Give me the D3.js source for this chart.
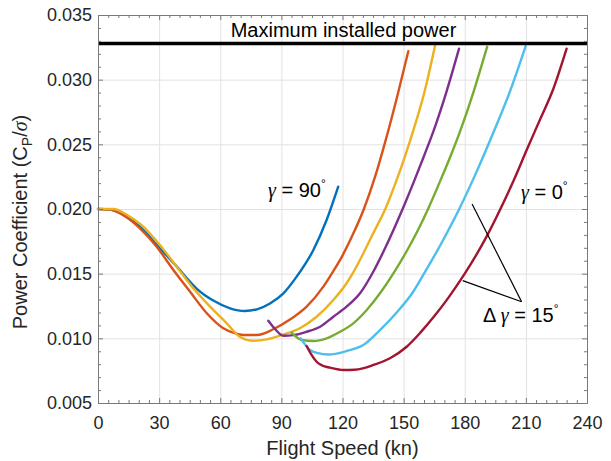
<!DOCTYPE html>
<meta charset="utf-8">
<style>
body {
  margin: 0;
  background: #fff;
}
svg {
  font-family: "Liberation Sans", Arial, Helvetica, sans-serif;
}
.axis text {
  font-size: 18px;
  fill: #262626;
}
.axis path,
.axis line {
  stroke: #7a7a7a;
}
.grid line {
  stroke: #e2e2e2;
}
.grid path {
  display: none;
}
.curve {
  fill: none;
  stroke-width: 2.4;
  stroke-linejoin: round;
  stroke-linecap: round;
}
.label {
  font-size: 20px;
  fill: #262626;
}
.note {
  font-size: 20px;
  fill: #000;
}
.greek {
  font-family: "Liberation Serif", "DejaVu Serif", serif;
  font-style: italic;
}
</style>
<svg width="611" height="461"></svg>
<script src="https://d3js.org/d3.v7.min.js"></script>
<script>

// axis ticks
var speedTicks = [0, 30, 60, 90, 120, 150, 180, 210, 240];
var cpTicks = [0.005, 0.010, 0.015, 0.020, 0.025, 0.030, 0.035];

// limit line
var maxPower = 0.0328;

// power curves, [speed kn, Cp/sigma]
var gamma90 = [[0, 0.0200], [6, 0.01995], [14, 0.0194], [20.6, 0.01863], [30.4, 0.01696],
  [40.2, 0.01528], [44.3, 0.01452], [48.4, 0.01385], [56.6, 0.01292], [64.8, 0.01232], [72, 0.01211],
  [78, 0.01224], [84.4, 0.0127], [91, 0.01348], [97.5, 0.01477], [105.7, 0.01683],
  [112.2, 0.01915], [117.9, 0.02173]];

var gamma75 = [[0, 0.0200], [6, 0.01995], [14, 0.01936], [20.6, 0.0185], [28.8, 0.01708],
  [37, 0.01528], [45.2, 0.0136], [53.4, 0.01194], [61.5, 0.01078], [67, 0.0104],
  [71.3, 0.01026], [77.9, 0.01026], [86, 0.0107], [94.2, 0.01145], [102.4, 0.01245],
  [110.6, 0.0140], [115.5, 0.0152], [120, 0.0164], [125, 0.0180], [130.5, 0.0200],
  [136, 0.0225], [141.5, 0.0255], [147, 0.0288], [152.3, 0.0322]];

var gamma60 = [[0, 0.0200], [7.5, 0.0200], [14.9, 0.01948], [21.4, 0.01876], [30.4, 0.01722],
  [38.6, 0.01554], [46.8, 0.01387], [55, 0.01245], [63.2, 0.01116], [69.7, 0.0101],
  [76.2, 0.00981], [82.8, 0.00992], [91, 0.0103], [99.1, 0.01078], [107.3, 0.01167],
  [115.5, 0.01296], [122, 0.01426], [125.3, 0.0151], [130, 0.0165], [135, 0.0181],
  [141, 0.0200], [146, 0.0220], [150.5, 0.0240], [155, 0.0262], [160, 0.0289], [165.4, 0.0326]];

var gamma45 = [[83.6, 0.01136], [87, 0.0107], [91, 0.0102], [95.9, 0.01025], [102.4, 0.01051],
  [109, 0.0109], [115.5, 0.01167], [122, 0.01245], [128.6, 0.01348], [135.1, 0.01515],
  [141, 0.0170], [149.5, 0.0200], [155, 0.0221], [160, 0.0241], [164.6, 0.0260],
  [171.1, 0.0291], [177.2, 0.0324]];

var gamma30 = [[95, 0.01044], [100, 0.00987], [105.7, 0.00979], [112.2, 0.0100], [118.8, 0.01051],
  [125.3, 0.01116], [131.9, 0.01219], [138.4, 0.01348], [144.9, 0.0150], [151, 0.0166],
  [156.5, 0.0182], [162, 0.0200], [167.5, 0.0220], [172.8, 0.0240], [177.7, 0.0260],
  [184.4, 0.0291], [191, 0.03255]];

var gamma15 = [[99.5, 0.0100], [104, 0.0091], [108, 0.00885], [113, 0.00875], [122, 0.00902],
  [130.2, 0.00948], [138.4, 0.01064], [146.6, 0.0120], [154.7, 0.0136], [160, 0.0150],
  [168, 0.0172], [177.3, 0.0200], [185, 0.0226], [194, 0.0259], [202.2, 0.0291],
  [209.9, 0.0326]];

var gamma0 = [[102.4, 0.00941], [104.5, 0.0088], [107.3, 0.00819], [110, 0.0079], [113.9, 0.00773],
  [120.4, 0.00755], [126, 0.00757], [130, 0.00768], [135.1, 0.00794], [143.3, 0.00846],
  [151.5, 0.00935], [158, 0.0104], [165, 0.0117], [172, 0.01315], [180, 0.0150],
  [190.7, 0.01786], [197.5, 0.0200], [204, 0.0222], [210.5, 0.0246], [216.9, 0.0269],
  [223.5, 0.0293], [230, 0.0324]];

// leader lines for the "delta gamma" note
var pointerA = [[183.6, 0.02039], [207.9, 0.01283]];
var pointerB = [[179.0, 0.01446], [207.9, 0.01283]];

var series = [gamma90, gamma75, gamma60, gamma45, gamma30, gamma15, gamma0];
var colors = ["#0072BD", "#D95319", "#EDB120", "#7E2F8E", "#77AC30", "#4DBEEE", "#A2142F"];

var svg = d3.select("svg"),
    plotL = 98, plotR = 587, plotT = 15, plotB = 403;

var x = d3.scaleLinear().domain([0, 240]).range([plotL, plotR]);
var y = d3.scaleLinear().domain([0.005, 0.035]).range([plotB, plotT]);

var minorX = d3.range(0, 241, 5).filter(function(d) { return d % 30 !== 0; });
var minorY = d3.range(5, 36).filter(function(d) { return d % 5 !== 0; })
    .map(function(d) { return d / 1000; });

// grid
svg.append("g").attr("class", "grid")
    .attr("transform", "translate(0," + plotB + ")")
    .call(d3.axisBottom(x).tickValues(speedTicks).tickSize(-(plotB - plotT)).tickFormat(""));
svg.append("g").attr("class", "grid")
    .attr("transform", "translate(" + plotL + ",0)")
    .call(d3.axisLeft(y).tickValues(cpTicks).tickSize(-(plotR - plotL)).tickFormat(""));

// curves
var line = d3.line()
    .x(function(d) { return x(d[0]); })
    .y(function(d) { return y(d[1]); })
    .curve(d3.curveMonotoneX);

svg.selectAll(".curve")
  .data(series)
  .enter().append("path")
    .attr("class", "curve")
    .attr("d", line)
    .style("stroke", function(d, i) { return colors[i]; });

// max power line
svg.append("line")
    .attr("x1", x(0)).attr("x2", x(240))
    .attr("y1", y(maxPower)).attr("y2", y(maxPower))
    .style("stroke", "#000").style("stroke-width", 3.4);

svg.append("text")
    .attr("class", "note")
    .attr("x", x(120.5)).attr("y", 37)
    .attr("text-anchor", "middle")
    .text("Maximum installed power");

// axes, ticks point inward
function frame(axis, tx, ty, size) {
  return svg.append("g").attr("class", "axis")
      .attr("transform", "translate(" + tx + "," + ty + ")")
      .call(axis.tickSizeInner(-size).tickSizeOuter(0));
}
frame(d3.axisBottom(x).tickValues(minorX).tickFormat(""), 0, plotB, 3);
frame(d3.axisTop(x).tickValues(minorX).tickFormat(""), 0, plotT, 3);
frame(d3.axisLeft(y).tickValues(minorY).tickFormat(""), plotL, 0, 3);
frame(d3.axisRight(y).tickValues(minorY).tickFormat(""), plotR, 0, 3);

frame(d3.axisBottom(x).tickValues(speedTicks).tickPadding(13), 0, plotB, 5);
frame(d3.axisTop(x).tickValues(speedTicks).tickFormat(""), 0, plotT, 5);
frame(d3.axisLeft(y).tickValues(cpTicks).tickPadding(6).tickFormat(d3.format(".3f")), plotL, 0, 5);
frame(d3.axisRight(y).tickValues(cpTicks).tickFormat(""), plotR, 0, 5);

// axis titles
svg.append("text")
    .attr("class", "label")
    .attr("x", (plotL + plotR) / 2).attr("y", 455)
    .attr("text-anchor", "middle")
    .text("Flight Speed (kn)");

var ylab = svg.append("text")
    .attr("class", "label")
    .attr("transform", "translate(27,222) rotate(-90)")
    .attr("text-anchor", "middle");
ylab.append("tspan").text("Power Coefficient (C");
ylab.append("tspan").attr("dy", 5).style("font-size", "14px").text("P");
ylab.append("tspan").attr("dy", -5).text("/");
ylab.append("tspan").attr("class", "greek").text("σ");
ylab.append("tspan").text(")");

// annotations
function gammaNote(px, py, prefix, value) {
  var t = svg.append("text").attr("class", "note").attr("x", px).attr("y", py);
  if (prefix) t.append("tspan").text(prefix + " ");
  t.append("tspan").attr("class", "greek").text("γ");
  t.append("tspan").text(" = " + value);
  t.append("tspan").attr("dy", -9).style("font-size", "12px").text("°");
}
gammaNote(268, 197, null, "90");
gammaNote(521, 199, null, "0");
gammaNote(483, 322, "Δ", "15");

[pointerA, pointerB].forEach(function(p) {
  svg.append("path")
      .attr("d", d3.line().x(function(d) { return x(d[0]); }).y(function(d) { return y(d[1]); })(p))
      .style("fill", "none").style("stroke", "#000").style("stroke-width", 1.2);
});

</script>
